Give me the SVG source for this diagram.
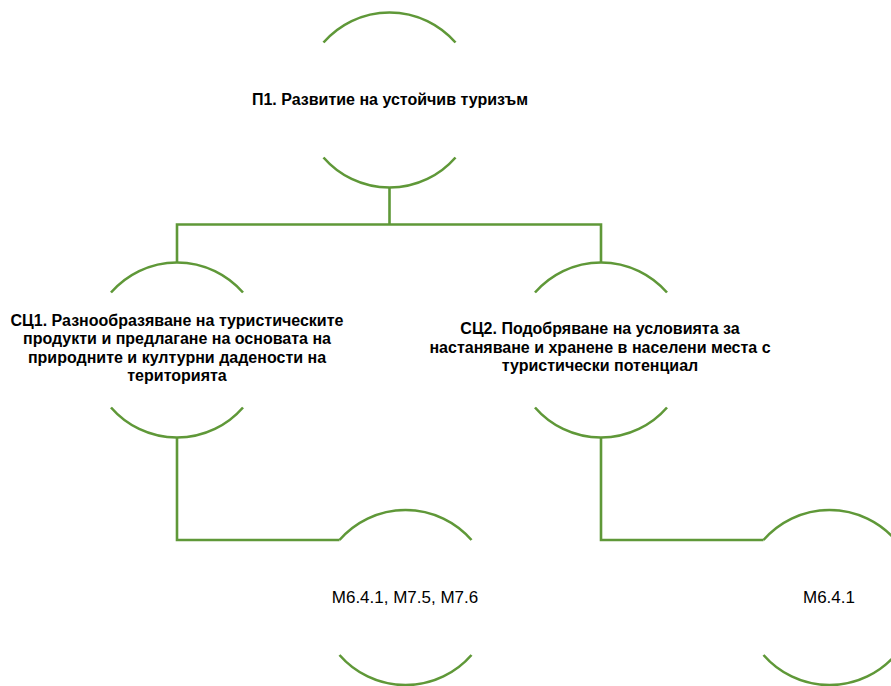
<svg xmlns="http://www.w3.org/2000/svg" width="891" height="686" viewBox="0 0 891 686">
  <style>
    .arc{fill:none;stroke:#5F9838;stroke-width:2.6}
    .conn{fill:none;stroke:#5F9838;stroke-width:2.6}
    .tb{font-family:"Liberation Sans",Arial,sans-serif;font-weight:bold;font-size:16px;fill:#000;text-anchor:middle}
    .tr{font-family:"Liberation Sans",Arial,sans-serif;font-size:17px;fill:#000;text-anchor:middle}
  </style>
  <rect width="891" height="686" fill="#fff"/>
  <g id="connectors">
    <path class="conn" d="M389.5,187.5 V224.5"/>
    <path class="conn" d="M177,262.5 V224.5 H601 V262.5"/>
    <path class="conn" d="M177,437.5 V540 H339.5"/>
    <path class="conn" d="M601,437.5 V540 H763.5"/>
  </g>
  <g id="p1">
    <path class="arc" d="M323.5,42.5 A87.5,87.5 0 0 1 455.5,42.5"/>
    <path class="arc" d="M323.5,157.5 A87.5,87.5 0 0 0 455.5,157.5"/>
    <text class="tb" x="390" y="105">П1. Развитие на устойчив туризъм</text>
  </g>
  <g id="sc1">
    <path class="arc" d="M111,292.5 A87.5,87.5 0 0 1 243,292.5"/>
    <path class="arc" d="M111,407.5 A87.5,87.5 0 0 0 243,407.5"/>
    <text class="tb" x="177" y="325.5">СЦ1. Разнообразяване на туристическите</text>
    <text class="tb" x="177" y="344">продукти и предлагане на основата на</text>
    <text class="tb" x="177" y="362.5">природните и културни дадености на</text>
    <text class="tb" x="177" y="381">територията</text>
  </g>
  <g id="sc2">
    <path class="arc" d="M535,292.5 A87.5,87.5 0 0 1 667,292.5"/>
    <path class="arc" d="M535,407.5 A87.5,87.5 0 0 0 667,407.5"/>
    <text class="tb" x="600" y="334">СЦ2. Подобряване на условията за</text>
    <text class="tb" x="600" y="352.5">настаняване и хранене в населени места с</text>
    <text class="tb" x="600" y="371">туристически потенциал</text>
  </g>
  <g id="m1">
    <path class="arc" d="M339.5,540 A87.5,87.5 0 0 1 471.5,540"/>
    <path class="arc" d="M339.5,655 A87.5,87.5 0 0 0 471.5,655"/>
    <text class="tr" x="405" y="602.5">M6.4.1, M7.5, M7.6</text>
  </g>
  <g id="m2">
    <path class="arc" d="M763.5,540 A87.5,87.5 0 0 1 895.5,540"/>
    <path class="arc" d="M763.5,655 A87.5,87.5 0 0 0 895.5,655"/>
    <text class="tr" x="829" y="602.5">M6.4.1</text>
  </g>
</svg>
